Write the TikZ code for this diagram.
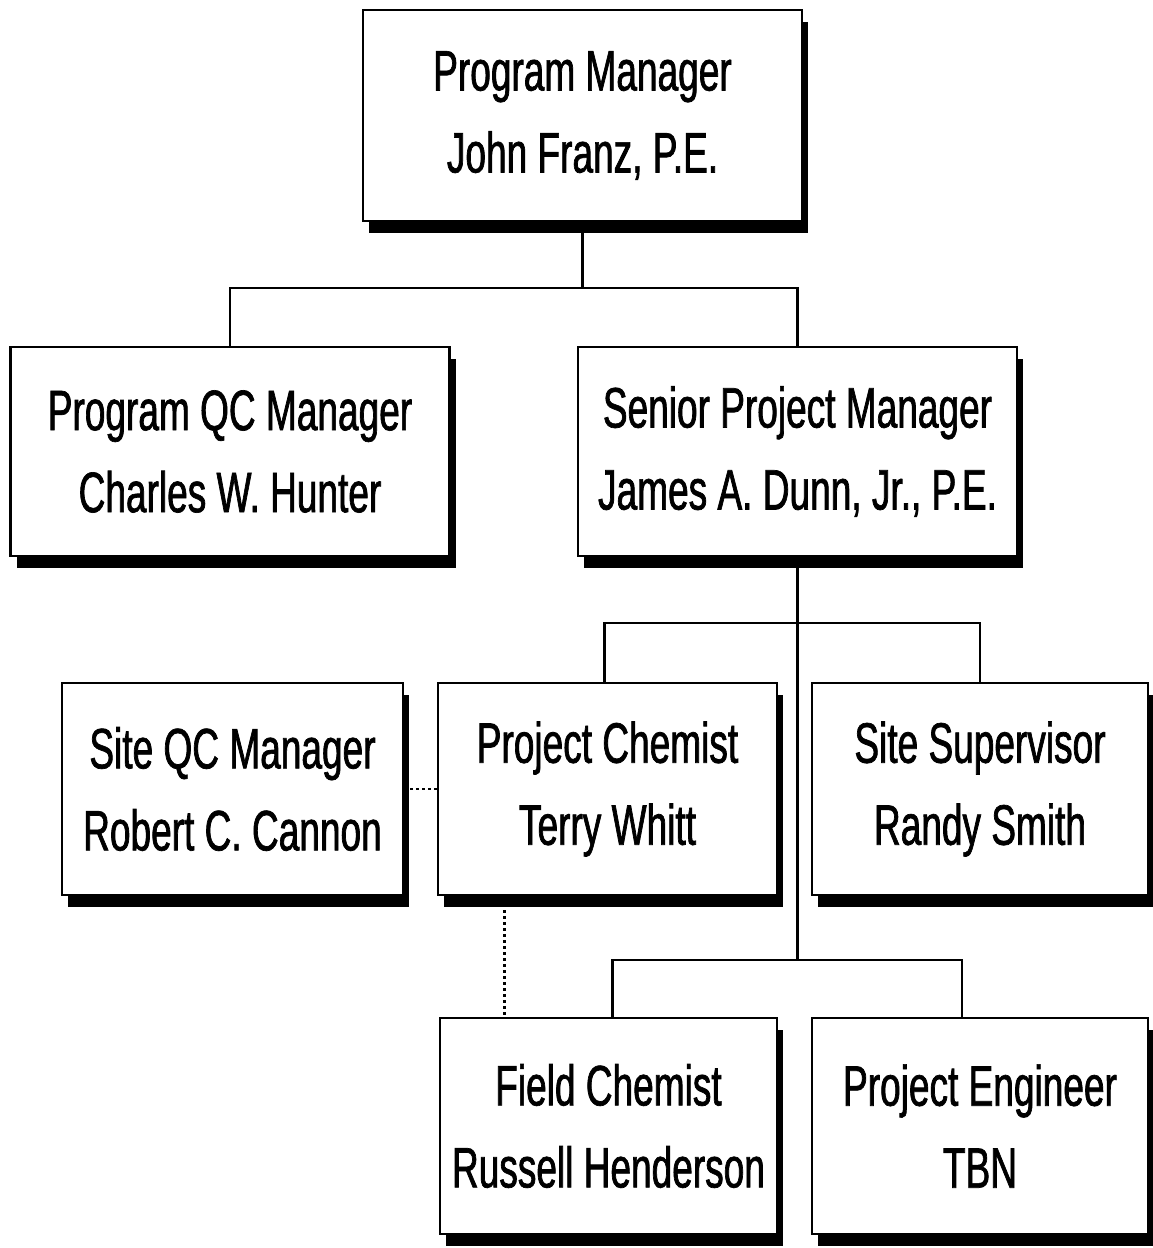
\documentclass[tikz,border=0pt]{standalone}
\usepackage{fontspec}
\setmainfont[FakeStretch=0.65,FakeBold=1.2]{Liberation Sans}
\usetikzlibrary{shadows}
\begin{document}
\begin{tikzpicture}[x=1pt,y=-1pt,
  box/.style={draw=black, line width=2.6pt, fill=white, align=center,
    inner sep=0pt, font=\fontsize{57}{82}\selectfont,
    drop shadow={shadow xshift=6pt, shadow yshift=-12pt, fill=black, opacity=1}},
  conn/.style={line width=2.4pt},
  dotline/.style={line width=2.8pt, dash pattern=on 3pt off 3pt}]
\useasboundingbox[fill=white] (0,0) rectangle (1153,1248);
\node[box, minimum width=439pt, minimum height=211pt] (pm) at (582.5,115.5) {Program Manager\\John Franz, P.E.};
\node[box, minimum width=439pt, minimum height=209pt] (qc) at (230,451.5) {Program QC Manager\\Charles W. Hunter};
\node[box, minimum width=439pt, minimum height=209pt] (spm) at (797.5,451.5) {Senior Project Manager\\James A. Dunn, Jr., P.E.};
\node[box, minimum width=341pt, minimum height=212pt] (sqc) at (232.5,789) {Site QC Manager\\Robert C. Cannon};
\node[box, minimum width=339pt, minimum height=212pt] (pc) at (607.5,789) {Project Chemist\\Terry Whitt};
\node[box, minimum width=336pt, minimum height=212pt] (ss) at (980,789) {Site Supervisor\\Randy Smith};
\node[box, minimum width=337pt, minimum height=216pt] (fc) at (608.5,1126) {Field Chemist\\Russell Henderson};
\node[box, minimum width=336pt, minimum height=216pt] (pe) at (980,1126) {Project Engineer\\TBN};
\coordinate (j0) at (582.5,288);
\coordinate (j1) at (797.5,623);
\coordinate (j2) at (797.5,960);
\draw[conn] (pm.south) -- (j0);
\draw[conn] (qc.north) |- (j0) -| (spm.north);
\draw[conn] (spm.south) -- (j2);
\draw[conn] ([xshift=-3pt]pc.north) |- (j1) -| (ss.north);
\draw[conn] ([xshift=4pt]fc.north) |- (j2) -| ([xshift=-18pt]pe.north);
\draw[dotline] (sqc.east) -- (pc.west);
\path (pc.south west) ++(68,14) coordinate (d1);
\draw[dotline] (d1) -- (d1 |- fc.north);
\end{tikzpicture}
\end{document}
